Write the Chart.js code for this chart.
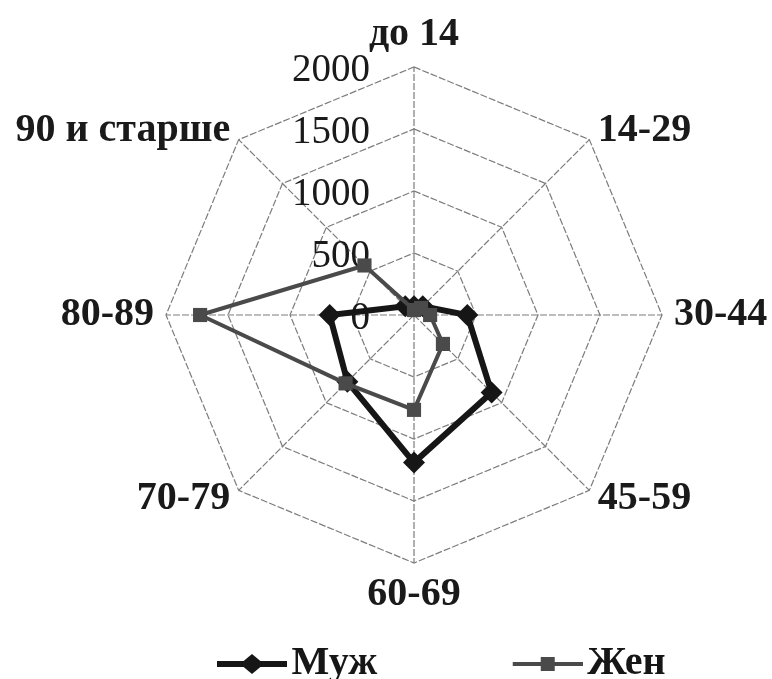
<!DOCTYPE html>
<html>
<head>
<meta charset="utf-8">
<script src="https://cdn.jsdelivr.net/npm/chart.js@4.4.1/dist/chart.umd.min.js"></script>
<style>
  body { margin: 0; background: #fff; }
</style>
</head>
<body>
<canvas id="age-chart" width="772" height="679"></canvas>
<script>
const ageGroups = ['до 14', '14-29', '30-44', '45-59', '60-69', '70-79', '80-89', '90 и старше']
const maleValues = [70, 100, 430, 885, 1190, 760, 680, 100]
const femaleValues = [40, 80, 130, 330, 765, 780, 1725, 565]
const tickValues = [0, 500, 1000, 1500, 2000]

const serif = '"Liberation Serif", "Times New Roman", serif'
const maleColor = '#161616'
const femaleColor = '#4a4a4a'
const gridColor = '#7c7c7c'

// legend sample: a short line with the marker in the middle
function legendMark(color, shape, lineWidth) {
  const c = document.createElement('canvas')
  c.width = 140
  c.height = 26
  const ctx = c.getContext('2d')
  ctx.strokeStyle = color
  ctx.fillStyle = color
  ctx.lineWidth = lineWidth
  ctx.beginPath()
  ctx.moveTo(70, 13)
  ctx.lineTo(140, 13)
  ctx.stroke()
  ctx.beginPath()
  if (shape === 'diamond') {
    ctx.moveTo(105, 3)
    ctx.lineTo(117, 13)
    ctx.lineTo(105, 23)
    ctx.lineTo(93, 13)
    ctx.closePath()
  } else {
    ctx.rect(98, 6, 14, 14)
  }
  ctx.fill()
  return c
}
const legendMarks = [legendMark(maleColor, 'diamond', 6), legendMark(femaleColor, 'square', 4)]

// tick numbers to the left of the vertical axis, category names outside the web
const axisText = {
  id: 'axisText',
  beforeDatasetsDraw(chart) {
    const scale = chart.scales.r
    const ctx = chart.ctx
    ctx.save()
    ctx.fillStyle = '#1a1a1a'
    ctx.font = '39px ' + serif
    ctx.textAlign = 'right'
    ctx.textBaseline = 'middle'
    tickValues.forEach(v => {
      const d = scale.getDistanceFromCenterForValue(v)
      ctx.fillText(String(v), scale.xCenter - 44, scale.yCenter - d + 4)
    })
    ctx.font = 'bold 40px ' + serif
    ageGroups.forEach((label, i) => {
      const p = scale.getPointPosition(i, scale.drawingArea + 12)
      const dx = p.x - scale.xCenter
      const dy = p.y - scale.yCenter
      const centred = Math.abs(dx) < 1
      ctx.textAlign = centred ? 'center' : (dx > 0 ? 'left' : 'right')
      ctx.textBaseline = centred ? (dy < 0 ? 'bottom' : 'top') : 'middle'
      ctx.fillText(label, p.x, p.y)
    })
    ctx.restore()
  }
}

const ctx = document.getElementById('age-chart').getContext('2d')
new Chart(ctx, {
  type: 'radar',
  data: {
    labels: ageGroups,
    datasets: [
      {
        label: 'Муж',
        data: maleValues,
        borderColor: maleColor,
        backgroundColor: maleColor,
        borderWidth: 6,
        pointStyle: 'rectRot',
        pointRadius: 11,
        pointBorderWidth: 0,
        pointBackgroundColor: maleColor,
        fill: false,
        order: 1
      },
      {
        label: 'Жен',
        data: femaleValues,
        borderColor: femaleColor,
        backgroundColor: femaleColor,
        borderWidth: 4,
        pointStyle: 'rect',
        pointRadius: 10,
        pointBorderWidth: 0,
        pointBackgroundColor: femaleColor,
        fill: false,
        order: 0
      }
    ]
  },
  options: {
    responsive: false,
    animation: false,
    devicePixelRatio: 1,
    layout: { padding: { top: 67, left: 60, right: 4, bottom: -15 } },
    scales: {
      r: {
        min: 0,
        max: 2000,
        ticks: { display: false, stepSize: 500 },
        pointLabels: { display: false },
        grid: { color: gridColor, lineWidth: 1.2 },
        border: { dash: [7, 2] },
        angleLines: { color: gridColor, lineWidth: 1.2, borderDash: [7, 2] }
      }
    },
    plugins: {
      tooltip: { enabled: false },
      legend: {
        position: 'bottom',
        labels: {
          usePointStyle: true,
          pointStyleWidth: 109,
          padding: 81,
          color: maleColor,
          font: { family: serif, size: 40, weight: 'bold' },
          generateLabels(chart) {
            return chart.data.datasets.map((ds, i) => ({
              text: ds.label,
              pointStyle: legendMarks[i],
              fontColor: maleColor,
              fillStyle: ds.borderColor,
              strokeStyle: ds.borderColor,
              lineWidth: 0,
              hidden: false,
              datasetIndex: i
            }))
          }
        }
      }
    }
  },
  plugins: [axisText]
})
</script>
</body>
</html>
